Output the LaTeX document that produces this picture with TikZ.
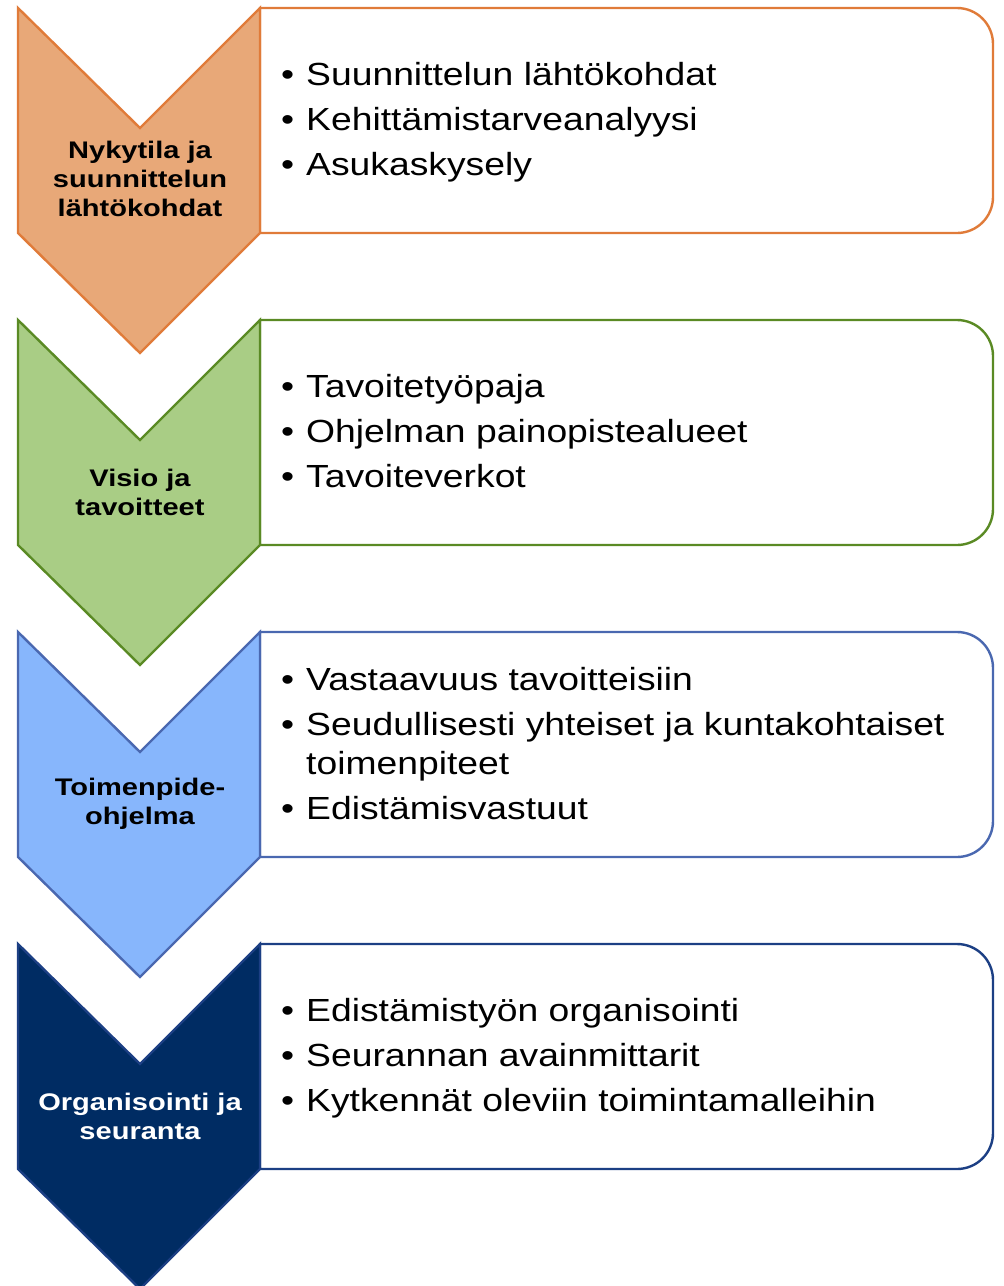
\documentclass[tikz,border=0pt]{standalone}
\usepackage{fontspec}
\setmainfont{Liberation Sans}[FakeStretch=1.165]
\newfontfamily\lblfont{Liberation Sans}[FakeStretch=1.21]
\definecolor{orfill}{HTML}{E8A878}
\definecolor{ordraw}{HTML}{E07B39}
\definecolor{grfill}{HTML}{A9CD85}
\definecolor{grdraw}{HTML}{5A8A24}
\definecolor{blfill}{HTML}{87B6FC}
\definecolor{bldraw}{HTML}{4A68B0}
\definecolor{nvfill}{HTML}{002C63}
\definecolor{nvdraw}{HTML}{1C3F84}
\tikzset{
  chev/.style={line width=2.4pt, line join=miter},
  panel/.style={line width=2.4pt, fill=white},
  lbl/.style={font=\lblfont\fontsize{24}{29}\selectfont\bfseries, align=center, inner sep=0pt},
  bul/.style={font=\fontsize{32}{39}\selectfont, anchor=base west, inner sep=0pt},
}
\newcommand{\stage}[4]{% #1 top y, #2 fill, #3 draw, #4 name
  \draw[panel, draw=#3] (260,#1) -- (700,#1) [rounded corners=36] -- (993,#1) -- (993,#1+225) -- (700,#1+225) [sharp corners] -- (260,#1+225) -- cycle;
  \draw[chev, fill=#2, draw=#3] (18,#1) -- (140,#1+120) -- (260,#1) -- (260,#1+225) -- (140,#1+345) -- (18,#1+225) -- cycle;
}
\newcommand{\bitem}[3]{% #1 name, #2 baseline y, #3 text
  \node[bul] (#1b) at (281,#2) {•};
  \node[bul] (#1) at (306,#2) {#3};
}
\begin{document}
\begin{tikzpicture}[x=1pt,y=-1pt]
\useasboundingbox (0,0) rectangle (1004,1286);
\begin{scope}
\clip (0,0) rectangle (1004,1286);
\stage{8}{orfill}{ordraw}{a}
\stage{320}{grfill}{grdraw}{b}
\stage{632}{blfill}{bldraw}{c}
\stage{944}{nvfill}{nvdraw}{d}
\end{scope}
\node[lbl] (la) at (140,179) {Nykytila ja\\suunnittelun\\lähtökohdat};
\node[lbl] (lb) at (140,492) {Visio ja\\tavoitteet};
\node[lbl] (lc) at (140,804) {Toimenpide-\\ohjelma};
\node[lbl, text=white] (ld) at (140,1116) {Organisointi ja\\seuranta};
\bitem{a1}{85}{Suunnittelun lähtökohdat}
\bitem{a2}{130}{Kehittämistarveanalyysi}
\bitem{a3}{175}{Asukaskysely}
\bitem{b1}{397}{Tavoitetyöpaja}
\bitem{b2}{442}{Ohjelman painopistealueet}
\bitem{b3}{487}{Tavoiteverkot}
\bitem{c1}{690}{Vastaavuus tavoitteisiin}
\bitem{c2}{735}{Seudullisesti yhteiset ja kuntakohtaiset}
\node[bul] (c2x) at (306,774) {toimenpiteet};
\bitem{c3}{819}{Edistämisvastuut}
\bitem{d1}{1021}{Edistämistyön organisointi}
\bitem{d2}{1066}{Seurannan avainmittarit}
\bitem{d3}{1111}{Kytkennät oleviin toimintamalleihin}
\end{tikzpicture}
\end{document}
